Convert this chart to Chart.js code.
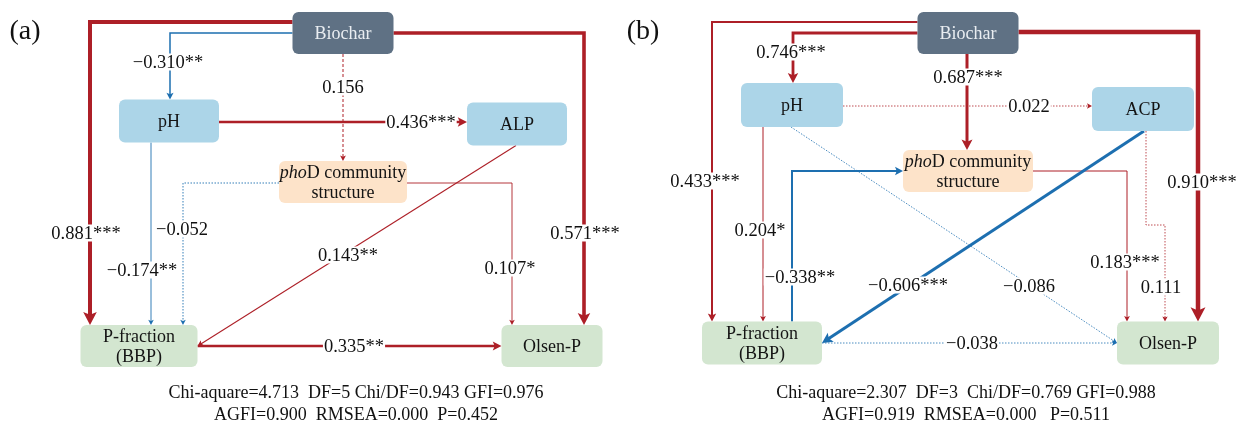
<!DOCTYPE html>
<html>
<head>
<meta charset="utf-8">
<script src="https://cdn.jsdelivr.net/npm/chart.js@4.4.1/dist/chart.umd.min.js"></script>
<style>
  html, body { margin: 0; padding: 0; background: #fff; }
  #wrap { width: 1236px; height: 425px; position: relative; }
  .fontprobe { position: absolute; left: -9999px; top: 0; font-family: "Liberation Serif"; font-size: 17px; }
</style>
</head>
<body>
<div id="wrap"><canvas id="myChart"></canvas></div>
<span class="fontprobe">0.881*** <i>pho</i>D</span>
<script>
// ---- data ----
const panelTitles = ['(a)', '(b)']
const nodeNames = ['Biochar', 'pH', 'ENZ', 'phoD', 'BBP', 'Olsen-P']
const enzymeNames = ['ALP', 'ACP']

// panel (a) path coefficients
const fromA = ['Biochar', 'Biochar', 'Biochar', 'Biochar', 'pH', 'pH', 'phoD', 'phoD', 'ENZ', 'BBP']
const toA = ['BBP', 'Olsen-P', 'pH', 'phoD', 'ENZ', 'BBP', 'BBP', 'Olsen-P', 'BBP', 'Olsen-P']
const coefA = [0.881, 0.571, -0.310, 0.156, 0.436, -0.174, -0.052, 0.107, 0.143, 0.335]
const signifA = ['***', '***', '**', '', '***', '**', '', '*', '**', '**']

// panel (b) path coefficients
const fromB = ['Biochar', 'Biochar', 'Biochar', 'Biochar', 'pH', 'pH', 'pH', 'BBP', 'phoD', 'ENZ', 'ENZ', 'BBP']
const toB = ['BBP', 'pH', 'phoD', 'Olsen-P', 'ENZ', 'BBP', 'Olsen-P', 'phoD', 'Olsen-P', 'Olsen-P', 'BBP', 'Olsen-P']
const coefB = [0.433, 0.746, 0.687, 0.910, 0.022, 0.204, -0.086, -0.338, 0.183, 0.111, -0.606, -0.038]
const signifB = ['***', '***', '***', '***', '', '*', '', '**', '***', '', '***', '']

const fitA = ['Chi-aquare=4.713  DF=5 Chi/DF=0.943 GFI=0.976', 'AGFI=0.900  RMSEA=0.000  P=0.452']
const fitB = ['Chi-aquare=2.307  DF=3  Chi/DF=0.769 GFI=0.988', 'AGFI=0.919  RMSEA=0.000   P=0.511']

// ---- layout (figure units, 1236 x 425) ----
// box centre x, centre y, width, height -- same order as nodeNames
const boxA = [[343, 33, 101, 42], [169, 121, 100, 43], [517, 124, 100, 43], [343, 182, 128, 42], [139, 346, 117, 42], [552, 346, 101, 42]]
const boxB = [[968, 33, 101, 42], [792, 105, 102, 44], [1143, 109, 102, 44], [968, 171, 130, 42], [762, 343, 120, 43], [1168, 343, 102, 43]]

const routeA = [['elbow', 'L', -11, -49], ['elbow', 'R', 0, 32], ['elbow', 'L', 0, 1], ['v', 0], ['h', 1],
    ['v', -18], ['elbow', 'L', 1, 44], ['elbow', 'R', 1, -40], ['diag', -1, 'R'], ['h', 0]]
const routeB = [['elbow', 'L', -11, -50], ['elbow', 'L', 0, 1], ['v', -1], ['elbow', 'R', -1, 30], ['h', 1],
    ['v', -29], ['diag', -1, 'L'], ['up', 30], ['elbow', 'R', 0, -41], ['step', 3, 225, -3], ['diag', 1, 'R'], ['h', 0]]

const labelA = [[86, 233], [585, 233], [168, 62], [343, 87], [421, 122], [142, 270], [182, 229], [510, 268], [348, 255], [354, 346]]
const labelB = [[705, 181], [791, 52], [968, 77], [1202, 182], [1029, 106], [760, 230], [1029, 286], [800, 277], [1125, 262], [1161, 287], [908, 285], [972, 343]]

const widthA = [4, 3.6, 1.5, 1, 2.5, 0.9, 0.9, 0.9, 1.1, 2.3]
const widthB = [2, 2.8, 3, 4.5, 0.8, 1, 0.8, 2, 1, 0.8, 3, 0.8]

const RED = '#ad1f27'
const BLUE = '#1d6fb0'
const FILL = { Biochar: '#5f7184', pH: '#acd5e8', ENZ: '#acd5e8', phoD: '#fde3c9', BBP: '#d3e6d0', 'Olsen-P': '#d3e6d0' }
const SERIF = '"Liberation Serif", "Times New Roman", Times, serif'

const panels = [
    { title: panelTitles[0], titlePos: [25, 32], enzyme: enzymeNames[0], box: boxA, from: fromA, to: toA, coef: coefA, sig: signifA, route: routeA, label: labelA, width: widthA, fit: fitA, fitX: 356 },
    { title: panelTitles[1], titlePos: [643, 32], enzyme: enzymeNames[1], box: boxB, from: fromB, to: toB, coef: coefB, sig: signifB, route: routeB, label: labelB, width: widthB, fit: fitB, fitX: 966 },
]

function routePoints(spec, s, t) {
    const left = b => b[0] - b[2] / 2, right = b => b[0] + b[2] / 2
    const top = b => b[1] - b[3] / 2, bottom = b => b[1] + b[3] / 2
    switch (spec[0]) {
        case 'elbow': {
            const sx = spec[1] === 'L' ? left(s) : right(s)
            const y = s[1] + spec[2], x = t[0] + spec[3]
            return [[sx, y], [x, y], [x, top(t)]]
        }
        case 'v': { const x = s[0] + spec[1]; return [[x, bottom(s)], [x, top(t)]] }
        case 'h': { const y = s[1] + spec[1]; return [[right(s), y], [left(t), y]] }
        case 'diag': return [[s[0] + spec[1], bottom(s)], [spec[2] === 'L' ? left(t) : right(t), t[1]]]
        case 'up': { const x = s[0] + spec[1]; return [[x, top(s)], [x, t[1]], [left(t), t[1]]] }
        case 'step': {
            const x1 = s[0] + spec[1], x2 = t[0] + spec[3]
            return [[x1, bottom(s)], [x1, spec[2]], [x2, spec[2]], [x2, top(t)]]
        }
    }
}

function fmtCoef(c, sig) {
    return (c < 0 ? '\u2212' : '') + Math.abs(c).toFixed(3) + sig
}

const pathPlugin = {
    id: 'pathDiagram',
    afterDatasetsDraw(chart) {
        const ctx = chart.ctx
        const sx = chart.scales.x, sy = chart.scales.y
        const P = p => [sx.getPixelForValue(p[0]), sy.getPixelForValue(p[1])]
        ctx.save()

        panels.forEach(pn => {
            const byName = name => pn.box[nodeNames.indexOf(name)]

            // paths
            pn.coef.forEach((c, i) => {
                const pts = routePoints(pn.route[i], byName(pn.from[i]), byName(pn.to[i])).map(P)
                const w = pn.width[i]
                const color = c < 0 ? BLUE : RED
                const L = 3 + 2.5 * w, hw = 1.6 + 1.3 * w
                const n = pts.length
                const [ax, ay] = pts[n - 2], [bx, by] = pts[n - 1]
                const ang = Math.atan2(by - ay, bx - ax)
                const end = [bx - Math.cos(ang) * L * 0.6, by - Math.sin(ang) * L * 0.6]

                ctx.strokeStyle = color
                ctx.lineWidth = w
                ctx.lineJoin = 'miter'
                ctx.lineCap = 'butt'
                ctx.setLineDash(pn.sig[i] === '' ? (w >= 1 ? [3, 2] : [1.5, 1.5]) : [])
                ctx.beginPath()
                ctx.moveTo(pts[0][0], pts[0][1])
                for (let k = 1; k < n - 1; k++) ctx.lineTo(pts[k][0], pts[k][1])
                ctx.lineTo(end[0], end[1])
                ctx.stroke()
                ctx.setLineDash([])

                // arrow head
                ctx.fillStyle = color
                ctx.save()
                ctx.translate(bx, by)
                ctx.rotate(ang)
                ctx.beginPath()
                ctx.moveTo(0, 0)
                ctx.lineTo(-L, hw)
                ctx.lineTo(-L * 0.78, 0)
                ctx.lineTo(-L, -hw)
                ctx.closePath()
                ctx.fill()
                ctx.restore()
            })

            // coefficient labels
            ctx.font = '18.5px ' + SERIF
            ctx.textAlign = 'center'
            ctx.textBaseline = 'middle'
            pn.coef.forEach((c, i) => {
                const txt = fmtCoef(c, pn.sig[i])
                const [lx, ly] = P(pn.label[i])
                const tw = ctx.measureText(txt).width
                ctx.fillStyle = '#fff'
                ctx.fillRect(lx - tw / 2 - 1, ly - 8.5, tw + 2, 17)
                ctx.fillStyle = '#111'
                ctx.fillText(txt, lx, ly + 1)
            })

            // nodes
            nodeNames.forEach((name, j) => {
                const b = pn.box[j]
                const [x0, y0] = P([b[0] - b[2] / 2, b[1] - b[3] / 2])
                const [x1, y1] = P([b[0] + b[2] / 2, b[1] + b[3] / 2])
                const [cx, cy] = P(b)
                ctx.fillStyle = FILL[name]
                ctx.beginPath()
                ctx.roundRect(x0, y0, x1 - x0, y1 - y0, 6)
                ctx.fill()

                ctx.fillStyle = name === 'Biochar' ? '#e9edf1' : '#141414'
                ctx.font = '18px ' + SERIF
                ctx.textAlign = 'center'
                ctx.textBaseline = 'middle'
                if (name === 'phoD') {
                    ctx.font = 'italic 18px ' + SERIF
                    const a = ctx.measureText('pho').width
                    ctx.font = '18px ' + SERIF
                    const r = ctx.measureText('D community').width
                    const lx = cx - (a + r) / 2
                    ctx.textAlign = 'left'
                    ctx.font = 'italic 18px ' + SERIF
                    ctx.fillText('pho', lx, cy - 9)
                    ctx.font = '18px ' + SERIF
                    ctx.fillText('D community', lx + a, cy - 9)
                    ctx.textAlign = 'center'
                    ctx.fillText('structure', cx, cy + 11)
                } else if (name === 'BBP') {
                    ctx.fillText('P-fraction', cx, cy - 9)
                    ctx.fillText('(BBP)', cx, cy + 11)
                } else {
                    ctx.fillText(name === 'ENZ' ? pn.enzyme : name, cx, cy + 1)
                }
            })

            // panel title and fit statistics
            ctx.fillStyle = '#111'
            ctx.textAlign = 'center'
            ctx.font = '28px ' + SERIF
            const [tx, ty] = P(pn.titlePos)
            ctx.fillText(pn.title, tx, ty)
            ctx.font = '18px ' + SERIF
            pn.fit.forEach((line, k) => {
                const [fx, fy] = P([pn.fitX, 393 + k * 22])
                ctx.fillText(line, fx, fy)
            })
        })
        ctx.restore()
    }
}

const config = {
    type: 'scatter',
    data: {
        datasets: panels.map(pn => ({
            label: pn.title,
            data: pn.box.map(b => ({ x: b[0], y: b[1] })),
            pointRadius: 0,
            showLine: false,
        }))
    },
    options: {
        responsive: true,
        maintainAspectRatio: false,
        animation: false,
        layout: { padding: 0 },
        scales: {
            x: { type: 'linear', min: 0, max: 1236, display: false },
            y: { type: 'linear', min: 0, max: 425, reverse: true, display: false },
        },
        plugins: {
            legend: { display: false },
            tooltip: { enabled: false },
        }
    },
    plugins: [pathPlugin]
}

const fontsReady = Promise.all([
    document.fonts.load('17px "Liberation Serif"'),
    document.fonts.load('italic 18px "Liberation Serif"'),
]).catch(() => null)

fontsReady.then(() => new Chart(document.getElementById('myChart'), config))
</script>
</body>
</html>
